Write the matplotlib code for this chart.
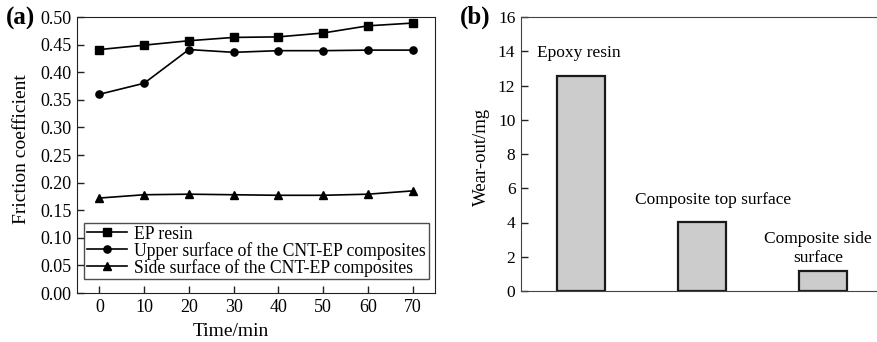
import numpy as np
import matplotlib
matplotlib.use('Agg')
import matplotlib.pyplot as plt

plt.rcParams['font.family'] = ['Liberation Serif', 'DejaVu Serif']

# (a) friction coefficient vs time
time_min = [0, 10, 20, 30, 40, 50, 60, 70]
ep_resin = [0.441, 0.449, 0.457, 0.463, 0.464, 0.471, 0.484, 0.489]
upper_surface = [0.360, 0.380, 0.441, 0.436, 0.439, 0.439, 0.440, 0.440]
side_surface = [0.172, 0.178, 0.179, 0.178, 0.177, 0.177, 0.179, 0.185]
series_labels = ['EP resin', 'Upper surface of the CNT-EP composites',
                 'Side surface of the CNT-EP composites']

# (b) wear-out
bar_labels = ['Epoxy resin', 'Composite top surface', 'Composite side\nsurface']
wear_mg = [12.56, 4.04, 1.14]

W, H = 878, 342
fig = plt.figure(figsize=(W/100, H/100), dpi=100)

spine_c = '#222222'

# ---- panel (a)
ax1 = fig.add_axes([77/W, 1-293/H, (435-77)/W, (293-17)/H])
ax1.plot(time_min, ep_resin, '-s', color='black', lw=1.2, ms=5.2, label=series_labels[0])
ax1.plot(time_min, upper_surface, '-o', color='black', lw=1.2, ms=5.2, label=series_labels[1])
ax1.plot(time_min, side_surface, '-^', color='black', lw=1.2, ms=6, label=series_labels[2])
ax1.set_xlim(-5, 75)
ax1.set_ylim(0, 0.5)
ax1.set_xticks(time_min)
ax1.set_yticks(np.arange(0, 0.501, 0.05))
ax1.set_yticklabels(['%.2f' % v for v in np.arange(0, 0.501, 0.05)])
ax1.tick_params(direction='in', length=5, labelsize=13, width=1, color=spine_c, pad=4)
for s in ax1.spines.values():
    s.set_color(spine_c)
ax1.set_xlabel('Time/min', fontsize=14)
ax1.xaxis.set_label_coords(154/358, -0.11)
ax1.set_ylabel('Friction coefficient', fontsize=14)
ax1.yaxis.set_label_coords(-0.13, 0.52)
leg = ax1.legend(loc='lower left', bbox_to_anchor=(0.02, 0.05), fontsize=12.7,
                 frameon=True, fancybox=False, edgecolor=spine_c, handlelength=2.3,
                 handletextpad=0.4, borderpad=0.15, labelspacing=-0.05, borderaxespad=0)
leg.get_frame().set_linewidth(1.0)
fig.text(6/W, 1-18/H, '(a)', fontsize=18, fontweight='bold', va='center', ha='left')

# ---- panel (b)
ax2 = fig.add_axes([521/W, 1-291/H, (883-521)/W, (291-17)/H])
xpos = np.arange(len(wear_mg))
ax2.bar(xpos, wear_mg, width=0.4, color='#cbcccb', edgecolor='#1a1a1a', linewidth=1.6)
ax2.set_xlim(-0.5, 2.5)
ax2.set_ylim(0, 16)
ax2.set_yticks(range(0, 17, 2))
ax2.set_xticks([])
ax2.tick_params(direction='in', length=5, labelsize=12.5, width=1, color=spine_c, pad=4)
ax2.spines['right'].set_visible(False)
for k in ['top', 'bottom', 'left']:
    ax2.spines[k].set_color('#444444')
ax2.set_ylabel('Wear-out/mg', fontsize=13.5)
ax2.yaxis.set_label_coords(-0.086, 0.49)
label_y = [13.9, 5.31, 2.5]
label_dx = [-0.025, 0.09, -0.04]
for i, (lab, v) in enumerate(zip(bar_labels, wear_mg)):
    ax2.text(xpos[i] + label_dx[i], label_y[i], lab, fontsize=12.5, ha='center', va='center',
             linespacing=1.25)
fig.text(460/W, 1-17/H, '(b)', fontsize=18, fontweight='bold', va='center', ha='left')

fig.savefig('out.png', dpi=100)
